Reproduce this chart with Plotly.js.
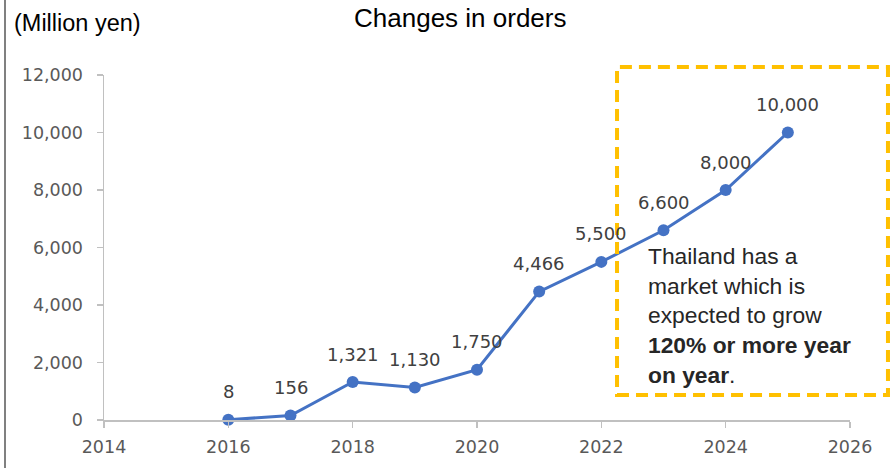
<!DOCTYPE html>
<html>
<head>
<meta charset="utf-8">
<script src="https://cdn.plot.ly/plotly-3.0.1.min.js"></script>
<style>html,body{margin:0;padding:0;background:#fff;}#chart{width:892px;height:468px;}</style>
</head>
<body>
<div id="chart"></div>
<script>
const years = [2016, 2017, 2018, 2019, 2020, 2021, 2022, 2023, 2024, 2025];
const orders = [8, 156, 1321, 1130, 1750, 4466, 5500, 6600, 8000, 10000];
const orderLabels = ["8", "156", "1,321", "1,130", "1,750", "4,466", "5,500", "6,600", "8,000", "10,000"];
const xTicks = [2014, 2016, 2018, 2020, 2022, 2024, 2026];
const yTicks = [0, 2000, 4000, 6000, 8000, 10000, 12000];
const yTickLabels = ["0", "2,000", "4,000", "6,000", "8,000", "10,000", "12,000"];
const titleText = "Changes in orders";
const unitText = "(Million yen)";
const noteText = "Thailand has a<br>market which is<br>expected to grow<br><b>120% or more year<br>on year</b>.";

const trace = {
  x: years, y: orders,
  type: "scatter", mode: "lines+markers",
  line: {color: "#4472C4", width: 3},
  marker: {color: "#4472C4", size: 12},
  cliponaxis: false,
  hoverinfo: "skip"
};

const labelAnnotations = years.map((yr, i) => ({
  x: yr, y: orders[i], xref: "x", yref: "y", text: orderLabels[i],
  showarrow: false, xanchor: "center", yanchor: "middle", yshift: 28,
  font: {family: "DejaVu Sans", size: 18, color: "#404040"}
}));

const axisCommon = {
  showgrid: false, zeroline: false, showline: true,
  linecolor: "#c0c0c0", linewidth: 1.5,
  ticks: "outside", tickcolor: "#c0c0c0", ticklen: 6, tickwidth: 1.5,
  tickfont: {family: "DejaVu Sans", size: 17.5, color: "#595959"},
  fixedrange: true
};

const layout = {
  width: 892, height: 468,
  margin: {l: 104, r: 42, t: 75, b: 48},
  paper_bgcolor: "#ffffff", plot_bgcolor: "#ffffff",
  showlegend: false,
  title: {text: titleText, x: 0.516, xanchor: "center", y: 0.962, yanchor: "middle",
          font: {family: "Liberation Sans", size: 26, color: "#000000"}},
  xaxis: Object.assign({}, axisCommon, {range: [2014, 2026], tickvals: xTicks, ticktext: xTicks.map(String), ticklabelstandoff: 4}),
  yaxis: Object.assign({}, axisCommon, {range: [0, 12000], tickvals: yTicks, ticktext: yTickLabels, ticklabelstandoff: 10}),
  annotations: [
    {text: unitText, xref: "paper", yref: "paper", x: -0.1233, y: 1.15, xanchor: "left", yanchor: "middle",
     showarrow: false, font: {family: "Liberation Sans", size: 23.5, color: "#000000"}},
    {text: noteText, xref: "paper", yref: "paper", x: 0.7265, y: 0.3043, xanchor: "left", yanchor: "middle",
     align: "left", showarrow: false, font: {family: "Liberation Sans", size: 22.8, color: "#262626"}}
  ].concat(labelAnnotations),
  shapes: [
    {type: "rect", xref: "paper", yref: "paper", x0: 0.6877, x1: 1.0509, y0: 0.0725, y1: 1.0232,
     line: {color: "#FFC000", width: 4, dash: "12px,7px"}, fillcolor: "rgba(0,0,0,0)", layer: "above"},
    {type: "line", xref: "paper", yref: "paper", x0: -0.1327, x1: -0.1327, y0: -0.2, y1: 1.25,
     line: {color: "#808080", width: 2}}
  ]
};

Plotly.newPlot("chart", [trace], layout, {displayModeBar: false, staticPlot: true});
</script>
</body>
</html>
